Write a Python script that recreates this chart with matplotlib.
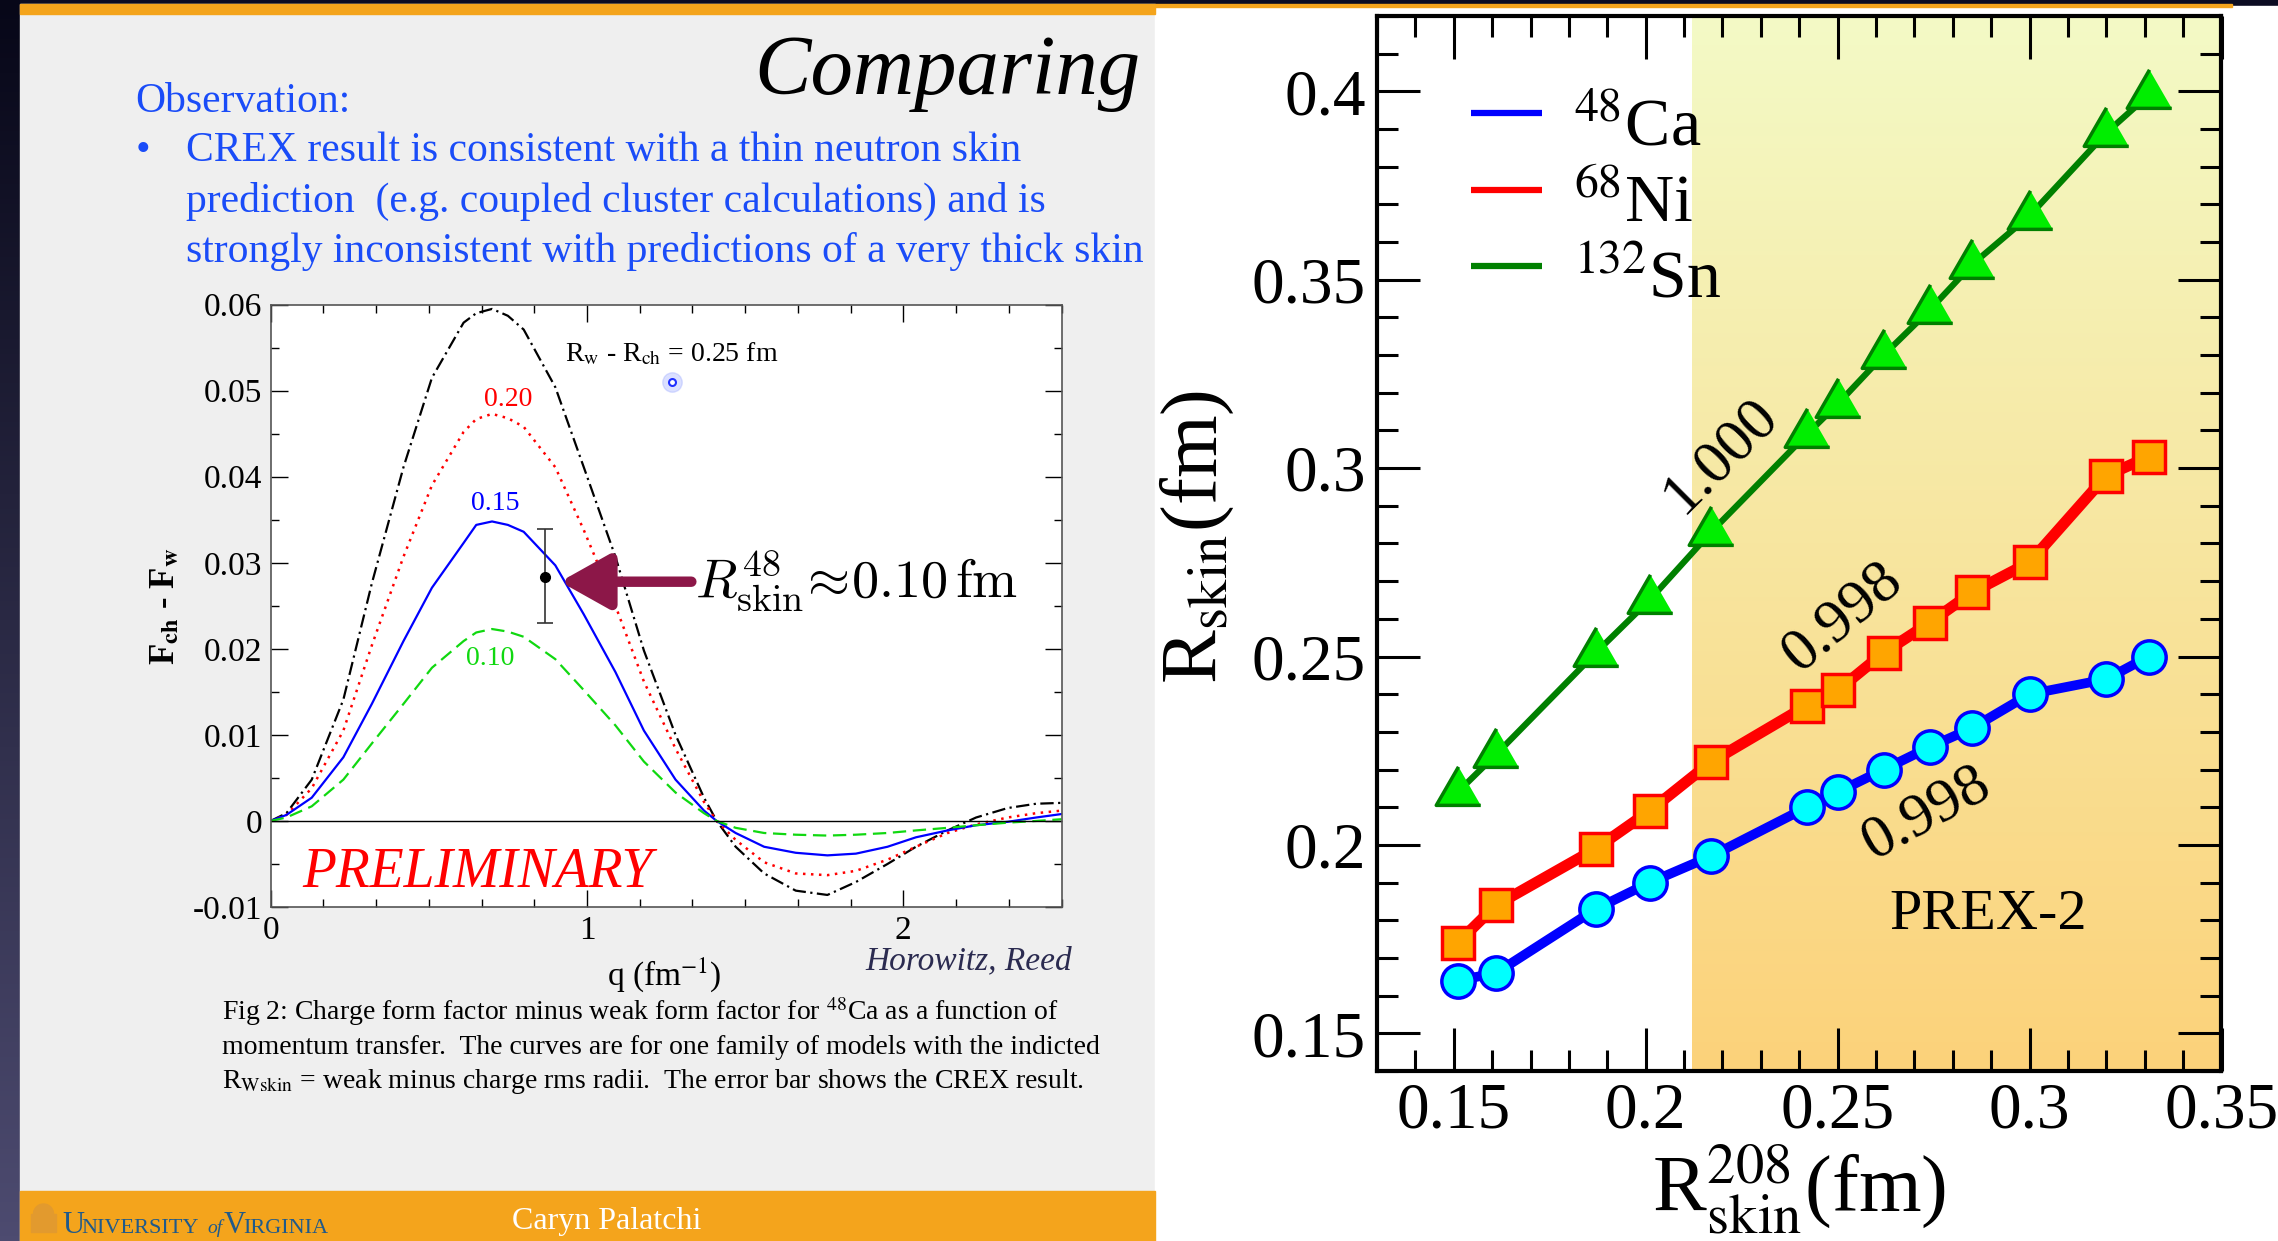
import numpy as np
import matplotlib.pyplot as plt
from matplotlib.patches import Rectangle, Wedge
from matplotlib.colors import LinearSegmentedColormap
from matplotlib.ticker import MultipleLocator, FuncFormatter

plt.rcParams["font.family"] = ["Liberation Serif", "DejaVu Serif"]
plt.rcParams["mathtext.fontset"] = "stix"

W, H = 2278, 1241

# ---- slide figure: F_ch - F_w vs q for several weak skins ----
q_vals = [0.0, 0.05, 0.13, 0.23, 0.32, 0.42, 0.51, 0.61, 0.65, 0.70, 0.75, 0.80, 0.90,
          0.99, 1.09, 1.18, 1.28, 1.37, 1.41, 1.47, 1.56, 1.66, 1.76, 1.85, 1.95, 2.04,
          2.14, 2.23, 2.33, 2.42, 2.50]
dF_025 = [0.0, 0.0009, 0.0048, 0.0141, 0.0276, 0.0411, 0.0515, 0.0579, 0.0590, 0.0595,
          0.0587, 0.0571, 0.0504, 0.0411, 0.0307, 0.0198, 0.0100, 0.0027, 0.0, -0.0030,
          -0.0061, -0.0081, -0.0086, -0.0071, -0.0050, -0.0030, -0.0011, 0.0004, 0.0015,
          0.0020, 0.0021]
dF_020 = [0.0, 0.0007, 0.0038, 0.0105, 0.0204, 0.0307, 0.0390, 0.0452, 0.0467, 0.0473,
          0.0468, 0.0458, 0.0411, 0.0338, 0.0250, 0.0162, 0.0084, 0.0022, 0.0, -0.0022,
          -0.0048, -0.0061, -0.0063, -0.0058, -0.0045, -0.0030, -0.0014, -0.0004, 0.0004,
          0.0009, 0.0012]
dF_015 = [0.0, 0.0007, 0.0027, 0.0074, 0.0136, 0.0209, 0.0271, 0.0323, 0.0344, 0.0348,
          0.0344, 0.0336, 0.0297, 0.0240, 0.0173, 0.0105, 0.0048, 0.0012, 0.0, -0.0014,
          -0.0030, -0.0037, -0.0040, -0.0038, -0.0030, -0.0019, -0.0011, -0.0005, -0.0001,
          0.0004, 0.0008]
dF_010 = [0.0, 0.0004, 0.0017, 0.0048, 0.0090, 0.0136, 0.0178, 0.0209, 0.0219, 0.0223,
          0.0220, 0.0214, 0.0188, 0.0152, 0.0111, 0.0069, 0.0033, 0.0009, 0.0, -0.0008,
          -0.0014, -0.0016, -0.0017, -0.0016, -0.0014, -0.0011, -0.0008, -0.0005, -0.0002,
          0.0, 0.0002]
crex_q, crex_val, crex_lo, crex_hi = 0.868, 0.0284, 0.0230, 0.0339

# ---- right plot: skins of 48Ca, 68Ni, 132Sn vs 208Pb skin ----
r_pb = [0.151, 0.161, 0.187, 0.201, 0.217, 0.242, 0.250, 0.262, 0.274, 0.285, 0.300, 0.320, 0.331]
r_ca = [0.164, 0.166, 0.183, 0.190, 0.197, 0.210, 0.214, 0.220, 0.226, 0.231, 0.240, 0.244, 0.250]
r_ni = [0.174, 0.184, 0.199, 0.209, 0.222, 0.237, 0.241, 0.251, 0.259, 0.267, 0.275, 0.298, 0.303]
r_sn = [0.214, 0.224, 0.251, 0.265, 0.283, 0.309, 0.317, 0.330, 0.342, 0.354, 0.367, 0.389, 0.399]
nuclei = [r"$^{48}$Ca", r"$^{68}$Ni", r"$^{132}$Sn"]
corr_ca, corr_ni, corr_sn = "0.998", "0.998", "1.000"
prex2_lo = 0.212

orange = "#f4a41c"
slide_gray = "#efefef"
slide_blue = "#1a4cf8"

fig = plt.figure(figsize=(W / 100, H / 100), dpi=100)

# background canvas in pixel units (y down)
bg = fig.add_axes([0, 0, 1, 1])
bg.axis("off")
bg.add_patch(Rectangle((0, 0), W, H, color="#0b0c22", zorder=0))
strip_cmap = LinearSegmentedColormap.from_list("strip", ["#070718", "#4d4b70"])
bg.imshow(np.linspace(0, 1, 256)[:, None], cmap=strip_cmap, extent=(0, 20, H, 0),
          aspect="auto", zorder=1)
bg.add_patch(Rectangle((20, 4), 1135, H - 4, color=slide_gray, zorder=1))
bg.add_patch(Rectangle((20, 4), 1135, 10, color=orange, zorder=2))
bg.add_patch(Rectangle((20, 1191), 1135, H - 1191, color=orange, zorder=2))
bg.add_patch(Rectangle((1155, 6), W - 1155, H - 6, color="white", zorder=1))
bg.add_patch(Rectangle((1155, 4), 2232 - 1155, 2.5, color=orange, zorder=2))

# slide text
bg.text(1140, 94, "Comparing", ha="right", va="baseline", fontsize=61, style="italic")
bg.text(135, 112, "Observation:", color=slide_blue, fontsize=30, va="baseline")
bg.text(136, 161, "\u2022", color=slide_blue, fontsize=30, va="baseline")
bullet_lines = ["CREX result is consistent with a thin neutron skin",
                "prediction  (e.g. coupled cluster calculations) and is",
                "strongly inconsistent with predictions of a very thick skin"]
for i, line in enumerate(bullet_lines):
    bg.text(186, 161 + 50.5 * i, line, color=slide_blue, fontsize=30, va="baseline")

caption = [r"Fig 2: Charge form factor minus weak form factor for $^{48}$Ca as a function of",
           "momentum transfer.  The curves are for one family of models with the indicted",
           r"R$_{\mathrm{Wskin}}$ = weak minus charge rms radii.  The error bar shows the CREX result."]
for i, line in enumerate(caption):
    bg.text(222, 1020 + 34 * i, line, fontsize=20, va="baseline")

bg.text(1072, 961, "Horowitz, Reed", ha="right", va="center", fontsize=24,
        style="italic", color="#2b2b50")
bg.text(664, 975, r"q (fm$^{-1}$)", ha="center", va="center", fontsize=24)
bg.text(166, 606, r"F$_{\mathbf{ch}}$ - F$_{\mathbf{w}}$", ha="center", va="center",
        fontsize=25, rotation=90, weight="bold")

# footer
uva = "#205a8a"
bg.add_patch(Rectangle((31, 1214), 25, 18, color="#e29a2e", zorder=3))
bg.add_patch(Wedge((43.5, 1214), 10, 180, 360, color="#e29a2e", zorder=3))
bg.text(62, 1233, "U", color=uva, fontsize=22, va="baseline")
bg.text(81, 1233, "NIVERSITY", color=uva, fontsize=16, va="baseline")
bg.text(207, 1233, "of", color=uva, fontsize=14, style="italic", va="baseline")
bg.text(224, 1233, "V", color=uva, fontsize=22, va="baseline")
bg.text(243, 1233, "IRGINIA", color=uva, fontsize=16, va="baseline")
bg.text(607, 1222, "Caryn Palatchi", color="white", fontsize=23, ha="center", va="center")
bg.set_xlim(0, W)
bg.set_ylim(H, 0)

# ---- inner slide plot ----
ax1 = fig.add_axes([270.6 / W, 1 - 907 / H, (1061.5 - 270.6) / W, (907 - 304.6) / H])
ax1.plot(q_vals, dF_025, color="black", lw=1.6, ls=(0, (6, 2, 1, 2)))
ax1.plot(q_vals, dF_020, color="red", lw=1.8, ls=(0, (1, 2.2)))
ax1.plot(q_vals, dF_015, color="blue", lw=1.6)
ax1.plot(q_vals, dF_010, color="#10d810", lw=1.6, ls=(0, (6, 3)))
ax1.axhline(0, color="black", lw=1.0)
ax1.errorbar([crex_q], [crex_val], yerr=[[crex_val - crex_lo], [crex_hi - crex_val]],
             fmt="o", color="black", ecolor="#333333", ms=7, capsize=6, elinewidth=1.2,
             capthick=1.2)
ax1.annotate("", xy=(0.915, 0.0278), xytext=(1.33, 0.0278),
             arrowprops=dict(arrowstyle="-|>,head_length=0.75,head_width=0.42",
                             color="#8c1748", lw=7.5, mutation_scale=40,
                             shrinkA=0, shrinkB=0))
ax1.text(1.34, 0.0278, r"$R^{48}_{\rm skin}\!\approx\!0.10\,{\rm fm}$", fontsize=39,
         va="center", math_fontfamily="cm")
ax1.text(0.93, 0.0543, r"R$_{\rm w}$ - R$_{\rm ch}$ = 0.25 fm", fontsize=20, va="center")
ax1.text(0.75, 0.0490, "0.20", color="red", fontsize=20, ha="center", va="center")
ax1.text(0.71, 0.0369, "0.15", color="blue", fontsize=20, ha="center", va="center")
ax1.text(0.695, 0.0189, "0.10", color="#10d810", fontsize=20, ha="center", va="center")
ax1.plot([1.268], [0.0510], "o", ms=14, color="#9aa8ff", alpha=0.35)
ax1.plot([1.268], [0.0510], "o", ms=5, mfc="white", mec="#2030ff", mew=1.5)
ax1.text(0.10, -0.0061, "PRELIMINARY", color="red", fontsize=40, style="italic",
         va="center")
ax1.set_xlim(0, 2.5)
ax1.set_ylim(-0.01, 0.06)
ax1.xaxis.set_major_locator(MultipleLocator(1))
ax1.xaxis.set_minor_locator(MultipleLocator(1 / 6))
ax1.yaxis.set_major_locator(MultipleLocator(0.01))
ax1.yaxis.set_minor_locator(MultipleLocator(0.005))
ax1.yaxis.set_major_formatter(FuncFormatter(lambda v, p: "%g" % round(v, 3)))
ax1.tick_params(which="both", direction="in", top=True, right=True, width=1.0,
                labelsize=24, pad=6)
ax1.tick_params(which="major", length=12)
ax1.tick_params(which="minor", length=6)
for s in ax1.spines.values():
    s.set_linewidth(1.2)
    s.set_color("#555555")

# ---- right plot ----
ax2 = fig.add_axes([1377 / W, 1 - 1071 / H, (2221.5 - 1377) / W, (1071 - 16) / H])
shade_cmap = LinearSegmentedColormap.from_list("prex", ["#f3fac6", "#fcd27a"])
ax2.imshow(np.linspace(0, 1, 256)[:, None], cmap=shade_cmap, aspect="auto",
           extent=(prex2_lo, 0.35, 0.14, 0.42), zorder=0)

tri = [(0, 0.577), (-0.5, -0.289), (0.5, -0.289)]
ax2.plot(r_pb, r_sn, color="#008000", lw=4.5, marker=tri, ms=37, mfc="#00ee00",
         mec="#008000", mew=2.5, zorder=3)
ax2.plot(r_pb, r_ni, color="red", lw=8, marker="s", ms=23, mfc="#ffa500",
         mec="red", mew=2.5, zorder=3)
ax2.plot(r_pb, r_ca, color="blue", lw=7, marker="o", ms=24, mfc="cyan",
         mec="blue", mew=2.5, zorder=3)

legend_colors = ["blue", "red", "#008000"]
legend_y = [0.908, 0.835, 0.763]
for lab, col, yy in zip(nuclei, legend_colors, legend_y):
    ax2.plot([0.111, 0.195], [yy, yy], color=col, lw=4.5, transform=ax2.transAxes,
             solid_capstyle="butt")
    ax2.text(0.232, yy - 0.030, lab, fontsize=49, va="baseline", transform=ax2.transAxes)

ax2.text(0.2194, 0.3034, corr_sn, fontsize=44, rotation=45, rotation_mode="anchor",
         ha="center", va="center")
ax2.text(0.2512, 0.2604, corr_ni, fontsize=44, rotation=40, rotation_mode="anchor",
         ha="center", va="center")
ax2.text(0.2732, 0.2083, corr_ca, fontsize=44, rotation=29, rotation_mode="anchor",
         ha="center", va="center")
ax2.text(0.2891, 0.1813, "PREX-2", fontsize=42, ha="center", va="center")

ax2.set_xlim(0.13, 0.35)
ax2.set_ylim(0.14, 0.42)
ax2.xaxis.set_major_locator(MultipleLocator(0.05))
ax2.xaxis.set_minor_locator(MultipleLocator(0.01))
ax2.yaxis.set_major_locator(MultipleLocator(0.05))
ax2.yaxis.set_minor_locator(MultipleLocator(0.01))
fmt = FuncFormatter(lambda v, p: "%g" % round(v, 3))
ax2.xaxis.set_major_formatter(fmt)
ax2.yaxis.set_major_formatter(fmt)
ax2.tick_params(which="both", direction="in", top=True, right=True, width=2.2,
                labelsize=47, pad=8)
ax2.tick_params(which="major", length=31)
ax2.tick_params(which="minor", length=15)
for s in ax2.spines.values():
    s.set_linewidth(3)
    s.set_zorder(5)

bg.text(1197, 537, r"R$_{\mathrm{skin}}$(fm)", fontsize=58, rotation=90,
        ha="center", va="center")
bg.text(1799, 1190, r"R$^{208}_{\mathrm{skin}}$(fm)", fontsize=58,
        ha="center", va="center")

fig.savefig("out.png", dpi=100)
